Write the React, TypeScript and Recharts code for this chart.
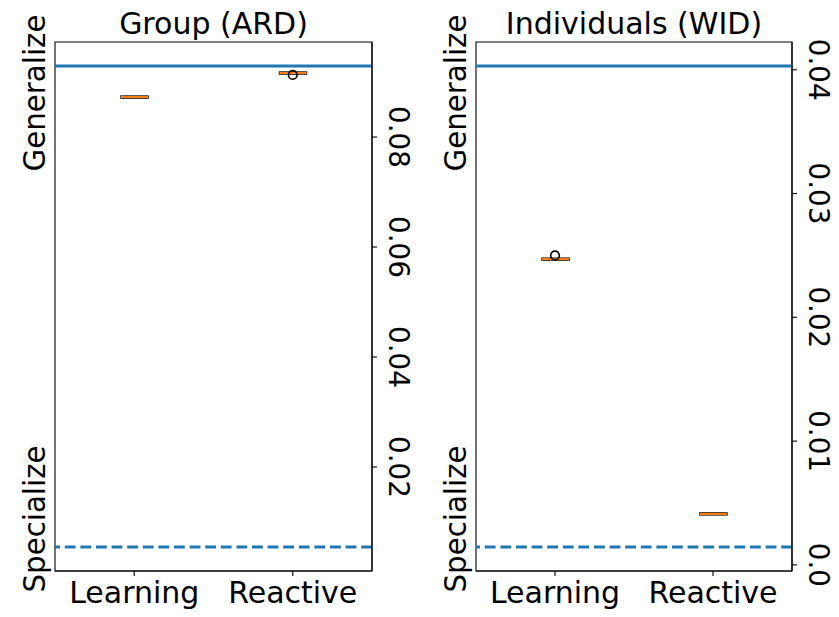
import React from 'react';
import { ComposedChart, Bar, Scatter, XAxis, YAxis, ReferenceLine, ReferenceArea } from 'recharts';

const categories = ['Learning', 'Reactive'];

// Group (ARD)
const groupQ1 = [0.08709, 0.09146];
const groupMedian = [0.08727, 0.09164];
const groupQ3 = [0.08745, 0.09182];
const groupOutlier: (number | null)[] = [null, 0.0913];
const groupGeneralize = 0.09291;
const groupSpecialize = 0.00546;
const groupTicks = [0.02, 0.04, 0.06, 0.08];
const groupTickLabels = ['0.02', '0.04', '0.06', '0.08'];

// Individuals (WID)
const indivQ1 = [0.02462, 0.00404];
const indivMedian = [0.0247, 0.00412];
const indivQ3 = [0.02478, 0.0042];
const indivOutlier: (number | null)[] = [0.025, null];
const indivGeneralize = 0.0403;
const indivSpecialize = 0.00145;
const indivTicks = [0, 0.01, 0.02, 0.03, 0.04];
const indivTickLabels = ['0.0', '0.01', '0.02', '0.03', '0.04'];

const FONT = 'DejaVu Sans';
const FS_TICK = 27.8;
const FS_BIG = 30;
const FS_SIDE = 29.3;
const BLUE = '#1f77b4';
const ORANGE = '#ff7f0e';

const BoxShape = (props: any) => {
  const { x, y, width, height, payload } = props;
  if (x == null || y == null) return <g />;
  const top = Math.min(y, y + height);
  const h = Math.abs(height);
  const { q1, q3, med } = payload;
  const my = q3 === q1 ? top + h / 2 : top + (h * (q3 - med)) / (q3 - q1);
  return (
    <g>
      <rect x={x} y={top} width={width} height={h} fill="none" stroke="#000" strokeWidth={1.4} />
      <line x1={x} x2={x + width} y1={my} y2={my} stroke={ORANGE} strokeWidth={2.1} />
    </g>
  );
};

const Flier = (props: any) => {
  const { cx, cy, payload } = props;
  if (!payload || payload.out == null || cx == null || cy == null) return <g />;
  return <circle cx={cx} cy={cy} r={4.3} fill="none" stroke="#000" strokeWidth={1.6} />;
};

type PanelProps = {
  left: number;
  width: number;
  marginLeft: number;
  yAxisWidth: number;
  q1: number[];
  med: number[];
  q3: number[];
  out: (number | null)[];
  gen: number;
  spec: number;
  ticks: number[];
  tickLabels: string[];
};

const axisStroke = { stroke: '#000', strokeWidth: 1.1 };

function Panel(p: PanelProps) {
  const data = categories.map((name, i) => ({
    name,
    box: [p.q1[i], p.q3[i]],
    q1: p.q1[i],
    med: p.med[i],
    q3: p.q3[i],
    out: p.out[i],
  }));
  const pad = 0.05 * (p.gen - p.spec);
  const domain = [p.spec - pad, p.gen + pad];
  const labelOf = (v: number) => {
    const idx = p.ticks.findIndex((t) => Math.abs(t - v) < 1e-9);
    return idx >= 0 ? p.tickLabels[idx] : String(v);
  };
  const YTick = (tp: any) => {
    const { x, y, payload } = tp;
    return (
      <text
        x={x}
        y={y}
        transform={`rotate(90 ${x} ${y})`}
        textAnchor="middle"
        fontSize={FS_TICK}
        fontFamily={FONT}
        fill="#000"
      >
        {labelOf(payload.value)}
      </text>
    );
  };
  const XTick = (tp: any) => {
    const { x, y, payload } = tp;
    return (
      <text x={x} y={y + 27} textAnchor="middle" fontSize={FS_BIG} fontFamily={FONT} fill="#000">
        {payload.value}
      </text>
    );
  };
  return (
    <div style={{ position: 'absolute', left: p.left, top: 0 }}>
      <ComposedChart
        width={p.width}
        height={617}
        data={data}
        margin={{ top: 42, right: 0, bottom: 0, left: p.marginLeft }}
      >
        <XAxis
          xAxisId="b"
          dataKey="name"
          height={46}
          tickSize={5}
          tickMargin={0}
          interval={0}
          tickLine={axisStroke}
          axisLine={axisStroke}
          tick={XTick}
        />
        <YAxis
          yAxisId="r"
          orientation="right"
          type="number"
          width={p.yAxisWidth}
          domain={domain}
          allowDataOverflow
          ticks={p.ticks}
          interval={0}
          tickSize={5}
          tickMargin={12}
          tickLine={axisStroke}
          axisLine={axisStroke}
          tick={YTick}
        />
        <ReferenceArea
          xAxisId="b"
          yAxisId="r"
          y1={domain[0]}
          y2={domain[1]}
          fill="none"
          fillOpacity={0}
          stroke="#000"
          strokeWidth={1.1}
          ifOverflow="extendDomain"
        />
        <ReferenceLine xAxisId="b" yAxisId="r" y={p.gen} stroke={BLUE} strokeWidth={3} />
        <ReferenceLine
          xAxisId="b"
          yAxisId="r"
          y={p.spec}
          stroke={BLUE}
          strokeWidth={3}
          strokeDasharray="10.8 4.8"
        />
        <Bar xAxisId="b" yAxisId="r" dataKey="box" barSize={27} shape={BoxShape} isAnimationActive={false} />
        <Scatter xAxisId="b" yAxisId="r" dataKey="out" shape={Flier} isAnimationActive={false} />
      </ComposedChart>
    </div>
  );
}

export default function App() {
  const big = { fontSize: FS_BIG, fontFamily: FONT, fill: '#000' };
  const side = { fontSize: FS_SIDE, fontFamily: FONT, fill: '#000' };
  return (
    <div style={{ position: 'absolute', left: 0, top: 0, width: 839, height: 617, background: '#fff' }}>
      <Panel
        left={0}
        width={430}
        marginLeft={55}
        yAxisWidth={58}
        q1={groupQ1}
        med={groupMedian}
        q3={groupQ3}
        out={groupOutlier}
        gen={groupGeneralize}
        spec={groupSpecialize}
        ticks={groupTicks}
        tickLabels={groupTickLabels}
      />
      <Panel
        left={430}
        width={409}
        marginLeft={46}
        yAxisWidth={47}
        q1={indivQ1}
        med={indivMedian}
        q3={indivQ3}
        out={indivOutlier}
        gen={indivGeneralize}
        spec={indivSpecialize}
        ticks={indivTicks}
        tickLabels={indivTickLabels}
      />
      <svg
        width={839}
        height={617}
        style={{ position: 'absolute', left: 0, top: 0, pointerEvents: 'none' }}
      >
        <text x={213.5} y={34} textAnchor="middle" {...big}>Group (ARD)</text>
        <text x={634} y={34} textAnchor="middle" {...big}>Individuals (WID)</text>
        <text x={45} y={93} textAnchor="middle" transform="rotate(-90 45 93)" {...side}>Generalize</text>
        <text x={45} y={519} textAnchor="middle" transform="rotate(-90 45 519)" {...side}>Specialize</text>
        <text x={466} y={93} textAnchor="middle" transform="rotate(-90 466 93)" {...side}>Generalize</text>
        <text x={466} y={519} textAnchor="middle" transform="rotate(-90 466 519)" {...side}>Specialize</text>
      </svg>
    </div>
  );
}
